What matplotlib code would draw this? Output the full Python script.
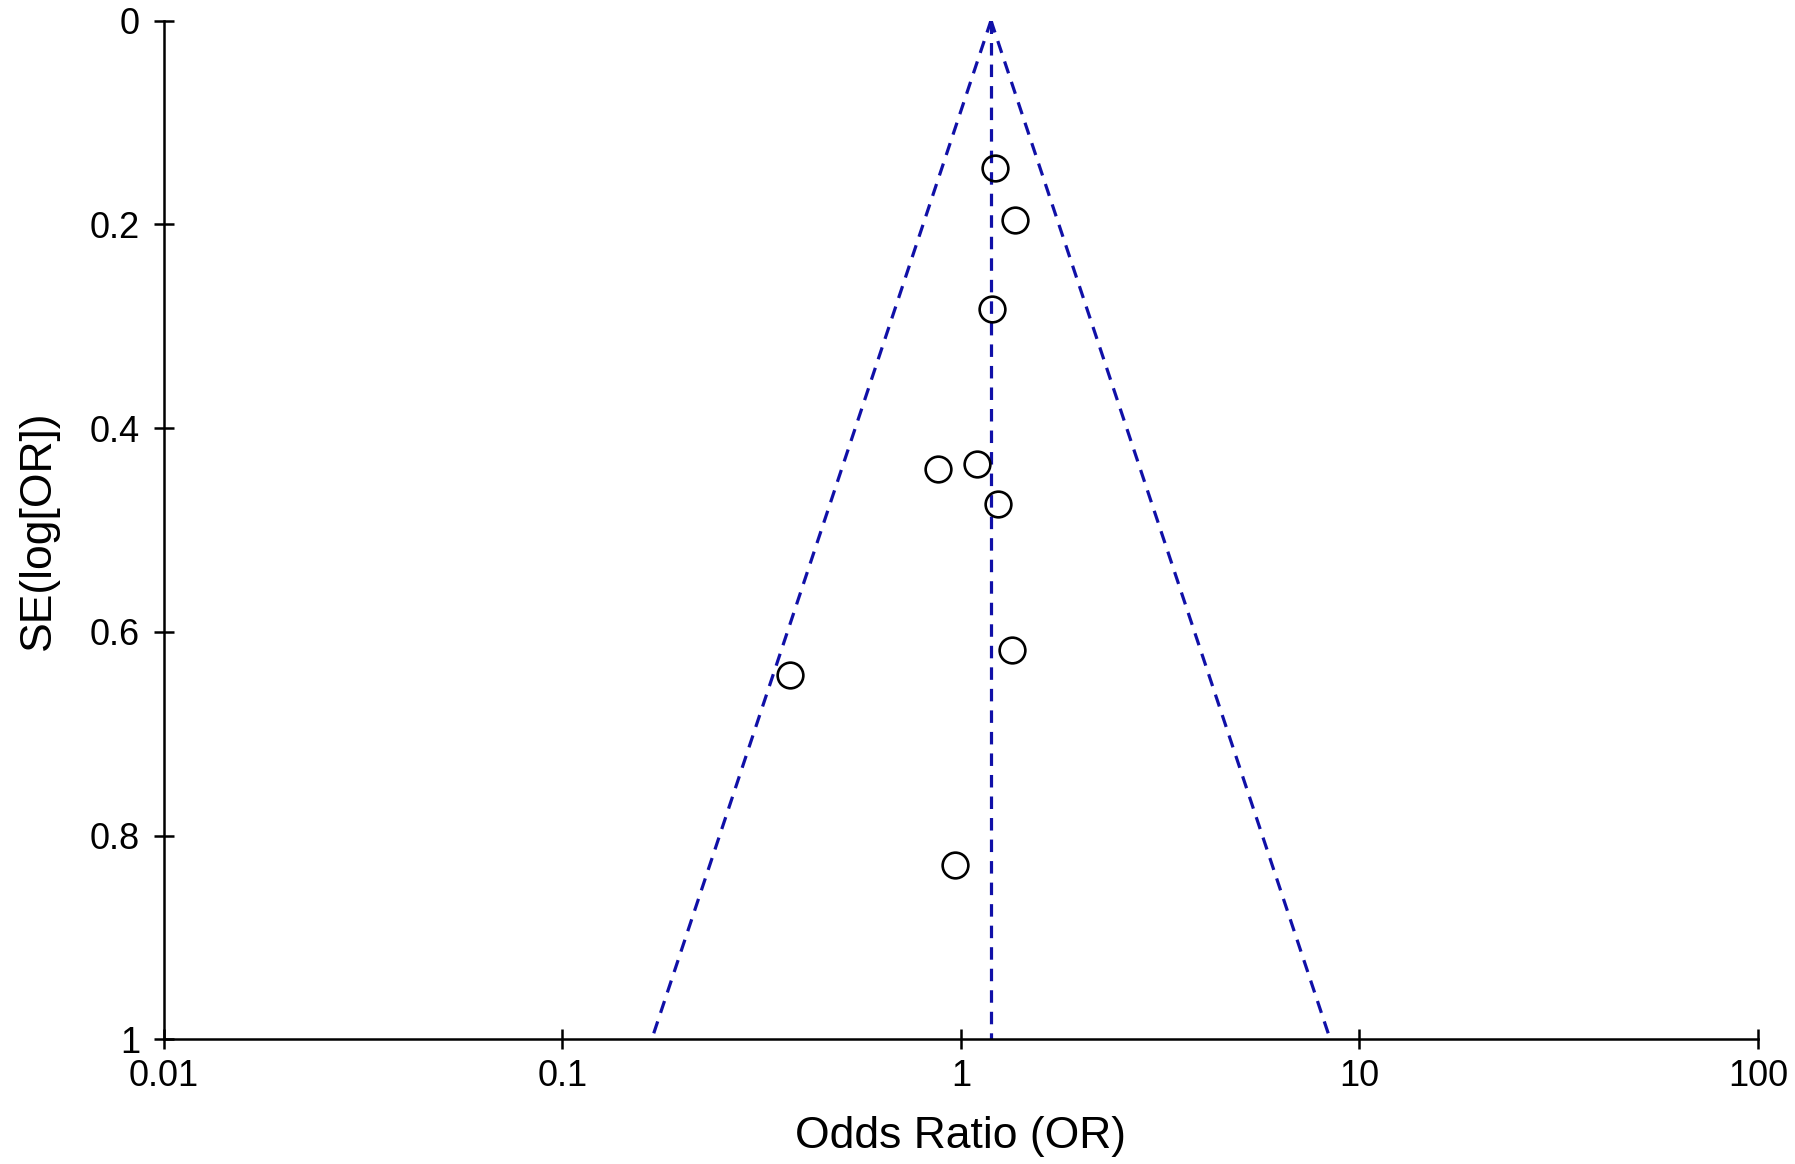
import numpy as np
import matplotlib
matplotlib.use("Agg")
import matplotlib.pyplot as plt

# Study estimates
odds_ratio = [1.22, 1.37, 1.20, 1.10, 0.874, 1.24, 1.34, 0.372, 0.964]
se_log_or = [0.145, 0.196, 0.283, 0.435, 0.440, 0.474, 0.618, 0.642, 0.829]
pooled_or = 1.19
z_value = 1.96

x_ticks = [0.01, 0.1, 1, 10, 100]
x_tick_labels = ["0.01", "0.1", "1", "10", "100"]
y_ticks = [0, 0.2, 0.4, 0.6, 0.8, 1]
y_tick_labels = ["0", "0.2", "0.4", "0.6", "0.8", "1"]

plt.rcParams['font.family'] = ['Liberation Sans', 'DejaVu Sans']
plt.rcParams['lines.scale_dashes'] = False

fig = plt.figure(figsize=(17.95, 11.64), dpi=100)
ax = fig.add_axes([0.0912, 0.107, 0.8882, 0.8753])

blue = '#1010A8'
dash = (0, (9, 6.5))
se_line = np.array([0.0, 1.0])
lo = np.exp(np.log(pooled_or) - z_value * se_line)
hi = np.exp(np.log(pooled_or) + z_value * se_line)
ax.plot(lo, se_line, color=blue, lw=2.3, ls=dash)
ax.plot(hi, se_line, color=blue, lw=2.3, ls=dash)
ax.plot([pooled_or, pooled_or], [0, 1], color=blue, lw=2.3, ls=dash)

ax.plot(odds_ratio, se_log_or, 'o', ms=18.5, mfc='none', mec='black', mew=1.9)

ax.set_xscale('log')
ax.set_xlim(0.01, 100)
ax.set_ylim(1, 0)
ax.set_xticks(x_ticks)
ax.set_xticklabels(x_tick_labels)
ax.minorticks_off()
ax.set_yticks(y_ticks)
ax.set_yticklabels(y_tick_labels)

for s in ['top', 'right']:
    ax.spines[s].set_visible(False)
for s in ['left', 'bottom']:
    ax.spines[s].set_linewidth(1.8)

ax.tick_params(axis='both', direction='inout', length=14, width=1.8,
               labelsize=26)
ax.tick_params(axis='x', pad=7)
ax.tick_params(axis='y', pad=10)
ax.set_xlabel('Odds Ratio (OR)', fontsize=32, labelpad=16)
ax.set_ylabel('SE(log[OR])', fontsize=32, labelpad=22)

fig.savefig('out.png', dpi=100, facecolor='white')
